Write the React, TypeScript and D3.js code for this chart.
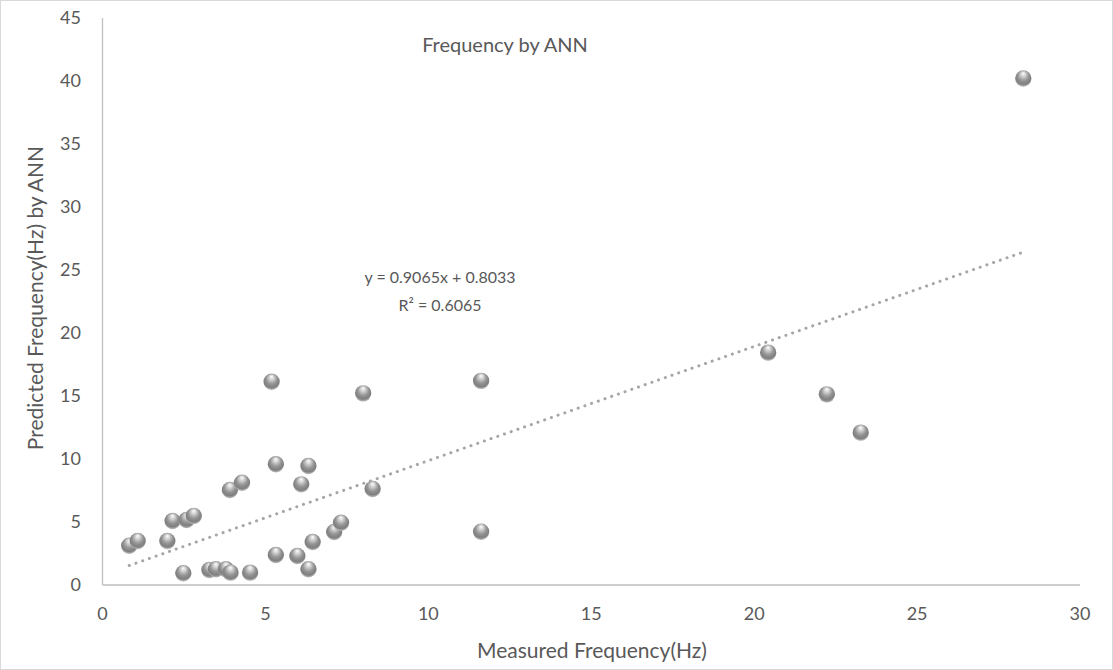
import React from "react";
import * as d3 from "d3";

const measured = [0.82, 1.08, 1.99, 2.15, 2.58, 2.8, 2.48, 3.28, 3.48, 3.79, 3.93, 4.53, 3.91, 4.28, 5.19, 5.32, 5.32, 5.98, 6.32, 6.1, 6.32, 6.45, 7.11, 7.32, 8.0, 8.29, 11.62, 11.62, 20.43, 22.23, 23.27, 28.26];
const predicted = [3.12, 3.49, 3.49, 5.08, 5.16, 5.48, 0.93, 1.19, 1.25, 1.25, 0.98, 0.98, 7.54, 8.12, 16.13, 9.58, 2.38, 2.3, 9.44, 7.99, 1.25, 3.41, 4.21, 4.94, 15.21, 7.62, 16.2, 4.23, 18.44, 15.13, 12.09, 40.2];
const xTicks = [0, 5, 10, 15, 20, 25, 30];
const yTicks = [0, 5, 10, 15, 20, 25, 30, 35, 40, 45];
const slope = 0.9065;
const intercept = 0.8033;
const rSquared = 0.6065;

const W = 1113;
const H = 670;
const FONT = "Lato, 'Open Sans', sans-serif";
const TXT = "#595959";

export default function App() {
  const x = d3.scaleLinear().domain([0, 30]).range([102.5, 1080]);
  const y = d3.scaleLinear().domain([0, 45]).range([585, 18]);
  const xMin = d3.min(measured) as number;
  const xMax = d3.max(measured) as number;
  const trend = d3.line<number>().x((d) => x(d)).y((d) => y(slope * d + intercept))([xMin, xMax]) as string;

  return (
    <svg width={W} height={H} style={{ position: "absolute", left: 0, top: 0, background: "#fff" }}>
      <defs>
        <radialGradient id="ball" cx="50%" cy="40%" r="55%" fx="50%" fy="18%">
          <stop offset="0%" stopColor="#ffffff" />
          <stop offset="25%" stopColor="#d4d4d4" />
          <stop offset="60%" stopColor="#959595" />
          <stop offset="88%" stopColor="#7e7e7e" />
          <stop offset="100%" stopColor="#acacac" />
        </radialGradient>
      </defs>
      <rect x={0.5} y={0.5} width={W - 1} height={H - 1} fill="#fff" stroke="#d9d9d9" />
      <text x={505} y={52} textAnchor="middle" fontFamily={FONT} fontSize={20} fill={TXT}>
        Frequency by ANN
      </text>
      <line x1={x(0)} x2={x(0)} y1={y(45)} y2={y(0)} stroke="#bfbfbf" strokeWidth={1.3} />
      <line x1={x(0)} x2={x(30)} y1={y(0)} y2={y(0)} stroke="#bfbfbf" strokeWidth={1.3} />
      {yTicks.map((t) => (
        <text key={"y" + t} x={81} y={y(t)} dy="0.35em" textAnchor="end" fontFamily={FONT} fontSize={18} fill={TXT}>
          {t}
        </text>
      ))}
      {xTicks.map((t) => (
        <text key={"x" + t} x={x(t)} y={614} dy="0.35em" textAnchor="middle" fontFamily={FONT} fontSize={18} fill={TXT}>
          {t}
        </text>
      ))}
      <text x={592} y={658} textAnchor="middle" fontFamily={FONT} fontSize={21} fill={TXT}>
        Measured Frequency(Hz)
      </text>
      <text transform="translate(43,298) rotate(-90)" textAnchor="middle" fontFamily={FONT} fontSize={21} fill={TXT}>
        Predicted Frequency(Hz) by ANN
      </text>
      <path d={trend} fill="none" stroke="#a6a6a6" strokeWidth={3} strokeDasharray="0.1 7" strokeLinecap="round" />
      {measured.map((m, i) => (
        <circle key={i} cx={x(m)} cy={y(predicted[i])} r={8.2} fill="url(#ball)" />
      ))}
      <text x={440} y={283} textAnchor="middle" fontFamily={FONT} fontSize={16} fill={TXT}>
        {`y = ${slope}x + ${intercept}`}
      </text>
      <text x={440} y={311} textAnchor="middle" fontFamily={FONT} fontSize={16} fill={TXT}>
        {`R² = ${rSquared}`}
      </text>
    </svg>
  );
}
